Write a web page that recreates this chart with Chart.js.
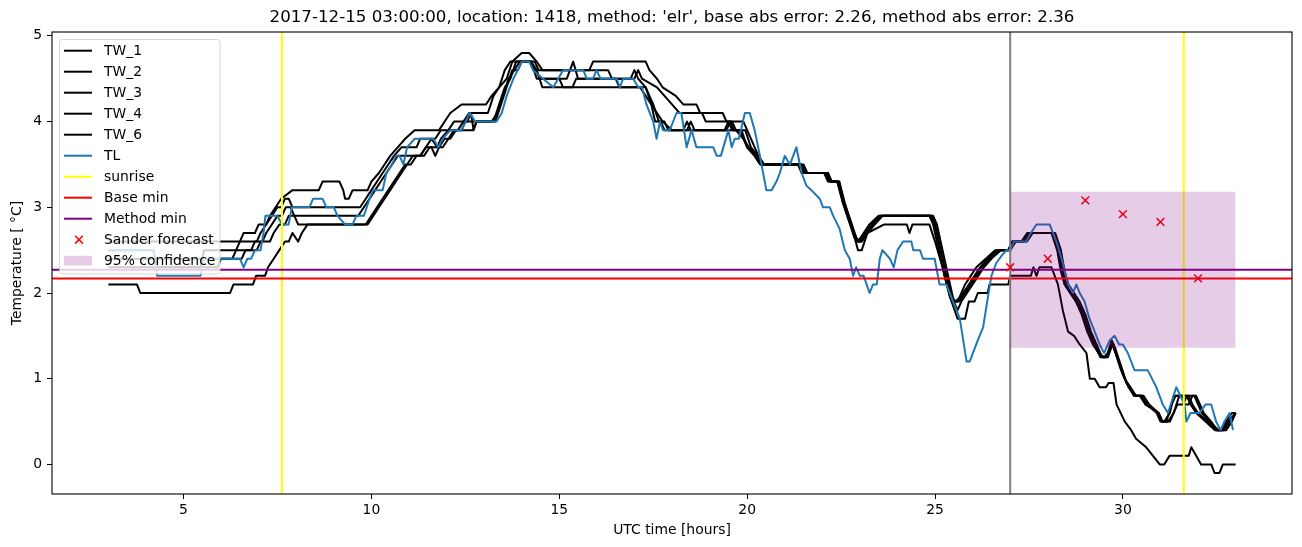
<!DOCTYPE html>
<html><head><meta charset="utf-8">
<script src="https://cdn.jsdelivr.net/npm/chart.js@4.4.1/dist/chart.umd.min.js"></script>
<style>html,body{margin:0;padding:0;background:#fff;}#wrap{width:1302px;height:547px;}</style>
</head><body><div id="wrap"><canvas id="c" width="1302" height="547"></canvas></div>
<script>
const TITLE = "2017-12-15 03:00:00, location: 1418, method: 'elr', base abs error: 2.26, method abs error: 2.36";
const X_LABEL = 'UTC time [hours]';
const Y_LABEL = 'Temperature [ °C]';
const X_TICKS = [5, 10, 15, 20, 25, 30];
const Y_TICKS = [0, 1, 2, 3, 4, 5];
const X_MIN = 1.5, X_MAX = 34.5, Y_MIN = -0.345, Y_MAX = 5.045;

const TW_1 = [[3.0,2.6],[6.5,2.6],[6.6,2.7],[6.9,2.7],[7.0,2.8],[7.2,2.8],[7.3,2.9],[7.45,3.0],[7.6,3.1],[7.9,3.2],[8.6,3.2],[8.7,3.3],[9.15,3.3],[9.25,3.2],[9.3,3.1],[9.4,3.1],[9.5,3.2],[9.9,3.2],[10.0,3.3],[10.2,3.4],[10.35,3.5],[10.5,3.6],[10.7,3.7],[10.9,3.8],[11.15,3.9],[11.8,3.9],[11.95,4.0],[12.1,4.1],[12.4,4.2],[13.05,4.2],[13.2,4.3],[13.4,4.4],[13.6,4.5],[13.75,4.7],[14.0,4.8],[14.2,4.8],[14.4,4.7],[14.55,4.6],[15.8,4.6],[15.9,4.7],[17.3,4.7],[17.4,4.6],[17.6,4.5],[17.75,4.4],[18.1,4.3],[18.3,4.2],[18.65,4.2],[18.75,4.1],[19.35,4.1],[19.45,4.0],[19.9,4.0],[20.0,3.9],[20.1,3.8],[20.2,3.7],[20.3,3.6],[20.45,3.5],[21.4,3.5],[21.5,3.4],[22.1,3.4],[22.2,3.3],[22.4,3.3],[22.55,3.1],[22.75,2.85],[22.9,2.65],[23.0,2.6],[23.15,2.7],[23.3,2.8],[23.55,2.9],[24.9,2.9],[25.0,2.8],[25.15,2.5],[25.3,2.2],[25.45,1.95],[25.55,1.9],[25.65,1.95],[25.8,2.1],[25.95,2.2],[26.1,2.3],[26.35,2.4],[26.6,2.5],[26.95,2.5],[27.05,2.6],[27.3,2.6],[27.45,2.7],[28.1,2.7],[28.25,2.55],[28.35,2.3],[28.45,2.1],[28.6,2.0],[28.75,1.9],[28.9,1.8],[29.05,1.6],[29.2,1.45],[29.35,1.3],[29.5,1.25],[29.6,1.3],[29.72,1.4],[29.8,1.3],[29.95,1.1],[30.1,0.95],[30.2,0.9],[30.3,0.8],[30.45,0.8],[30.6,0.7],[30.95,0.6],[31.05,0.5],[31.15,0.5],[31.3,0.7],[31.4,0.8],[31.75,0.8],[31.85,0.7],[32.0,0.6],[32.25,0.5],[32.5,0.4],[32.65,0.4],[32.8,0.5],[33.0,0.6]];
const TW_2 = [[3.0,2.1],[3.76,2.1],[3.85,2.0],[6.24,2.0],[6.33,2.1],[6.85,2.1],[6.93,2.2],[7.17,2.2],[7.25,2.3],[7.4,2.4],[7.55,2.5],[7.7,2.6],[7.8,2.6],[7.9,2.7],[8.05,2.6],[8.15,2.7],[8.3,2.8],[9.85,2.8],[10.0,2.9],[10.15,3.0],[10.3,3.1],[10.45,3.2],[10.6,3.3],[10.75,3.4],[10.9,3.5],[11.05,3.5],[11.2,3.6],[11.4,3.6],[11.55,3.7],[11.9,3.7],[12.05,3.8],[12.2,3.9],[12.4,3.9],[12.5,4.0],[13.2,4.0],[13.35,4.1],[13.5,4.3],[13.65,4.5],[13.8,4.6],[13.95,4.7],[14.2,4.7],[14.35,4.6],[14.5,4.5],[15.0,4.5],[15.1,4.4],[17.3,4.4],[17.45,4.2],[17.6,4.1],[17.75,4.0],[18.0,3.9],[19.4,3.9],[19.5,4.0],[19.6,3.9],[19.8,3.9],[20.0,3.7],[20.2,3.6],[20.35,3.5],[21.45,3.5],[21.55,3.4],[22.05,3.4],[22.15,3.3],[22.45,3.3],[22.6,3.0],[22.8,2.75],[22.95,2.6],[23.05,2.6],[23.2,2.7],[23.65,2.8],[24.25,2.8],[24.32,2.7],[24.4,2.8],[24.85,2.8],[25.0,2.6],[25.2,2.3],[25.4,1.95],[25.6,1.7],[25.8,1.7],[25.9,1.9],[26.05,1.9],[26.14,2.0],[26.4,2.0],[26.45,2.1],[26.95,2.1],[27.0,2.2],[27.55,2.2],[27.62,2.3],[27.7,2.2],[27.78,2.3],[28.1,2.3],[28.27,2.1],[28.4,1.8],[28.54,1.55],[28.7,1.5],[28.85,1.4],[29.03,1.3],[29.12,1.0],[29.25,1.0],[29.38,0.9],[29.55,0.9],[29.62,0.95],[29.75,0.95],[29.83,0.7],[30.05,0.5],[30.22,0.4],[30.35,0.3],[30.62,0.2],[30.8,0.1],[30.98,0.0],[31.1,0.0],[31.24,0.1],[31.75,0.1],[31.82,0.2],[31.95,0.1],[32.08,0.0],[32.35,0.0],[32.44,-0.1],[32.57,-0.1],[32.66,0.0],[33.0,0.0]];
const TW_3 = [[3.0,2.5],[4.2,2.5],[4.3,2.3],[5.45,2.3],[5.55,2.5],[6.4,2.5],[6.5,2.6],[6.95,2.6],[7.05,2.7],[7.2,2.8],[7.35,2.9],[7.5,3.0],[7.6,3.0],[7.7,3.1],[7.8,3.1],[7.9,3.0],[9.7,3.0],[9.85,3.1],[10.0,3.2],[10.15,3.3],[10.3,3.4],[10.45,3.5],[10.6,3.6],[10.8,3.7],[11.2,3.7],[11.3,3.8],[11.7,3.8],[11.85,3.9],[12.3,3.9],[12.45,4.0],[12.6,4.1],[13.1,4.1],[13.25,4.3],[13.4,4.4],[13.55,4.6],[13.7,4.7],[14.35,4.7],[14.45,4.6],[16.3,4.6],[16.4,4.5],[17.0,4.5],[17.1,4.6],[17.2,4.5],[17.6,4.4],[17.8,4.3],[18.0,4.2],[18.2,4.1],[18.8,4.1],[18.9,4.0],[19.6,4.0],[19.7,3.9],[19.95,3.9],[20.1,3.7],[20.3,3.6],[20.45,3.5],[21.5,3.5],[21.6,3.4],[22.15,3.4],[22.25,3.3],[22.45,3.3],[22.6,3.05],[22.8,2.75],[22.95,2.5],[23.05,2.5],[23.2,2.7],[23.35,2.8],[23.6,2.9],[24.95,2.9],[25.05,2.8],[25.2,2.5],[25.35,2.2],[25.5,1.9],[25.6,1.8],[25.7,1.9],[25.85,2.0],[26.0,2.1],[26.15,2.2],[26.3,2.3],[26.5,2.4],[26.75,2.5],[27.0,2.5],[27.15,2.6],[27.45,2.6],[27.6,2.7],[28.2,2.7],[28.35,2.5],[28.45,2.25],[28.55,2.1],[28.7,2.0],[28.85,1.9],[29.0,1.75],[29.15,1.55],[29.3,1.4],[29.45,1.25],[29.6,1.25],[29.72,1.4],[29.9,1.2],[30.05,1.0],[30.2,0.9],[30.35,0.8],[30.55,0.8],[30.7,0.7],[30.95,0.6],[31.05,0.5],[31.25,0.5],[31.35,0.6],[31.5,0.8],[31.55,0.8],[31.65,0.7],[31.75,0.7],[31.85,0.8],[31.95,0.8],[32.05,0.7],[32.15,0.6],[32.35,0.5],[32.5,0.4],[32.75,0.4],[32.9,0.5],[33.0,0.6]];
const TW_4 = [[3.0,2.4],[6.3,2.4],[6.4,2.5],[6.8,2.5],[6.9,2.6],[7.1,2.6],[7.2,2.7],[7.35,2.8],[7.5,2.9],[7.62,2.9],[7.72,3.0],[7.85,3.0],[7.95,2.9],[9.65,2.9],[9.8,3.0],[9.95,3.1],[10.1,3.2],[10.25,3.3],[10.4,3.4],[10.55,3.5],[10.7,3.6],[11.3,3.6],[11.45,3.7],[11.6,3.8],[11.75,3.7],[11.85,3.8],[12.05,3.9],[12.2,4.0],[12.55,4.0],[12.65,4.1],[12.72,3.9],[12.8,4.0],[13.3,4.0],[13.45,4.2],[13.6,4.4],[13.75,4.6],[13.9,4.6],[14.0,4.7],[14.25,4.7],[14.4,4.5],[15.2,4.5],[15.37,4.7],[15.5,4.5],[16.5,4.5],[16.6,4.4],[17.15,4.4],[17.3,4.3],[17.45,4.2],[17.55,4.0],[17.7,4.0],[17.8,3.9],[18.4,3.9],[18.5,4.0],[18.6,3.9],[19.45,3.9],[19.55,4.0],[19.65,3.9],[19.85,3.9],[20.0,3.7],[20.2,3.6],[20.35,3.5],[21.4,3.5],[21.5,3.4],[22.1,3.4],[22.2,3.3],[22.4,3.3],[22.55,3.05],[22.7,2.85],[22.85,2.65],[22.95,2.6],[23.1,2.7],[23.25,2.8],[23.5,2.9],[24.9,2.9],[25.0,2.8],[25.15,2.5],[25.3,2.2],[25.45,1.95],[25.55,1.9],[25.65,1.9],[25.8,2.0],[25.95,2.1],[26.1,2.2],[26.25,2.3],[26.45,2.4],[26.7,2.5],[26.95,2.5],[27.05,2.6],[27.35,2.6],[27.5,2.7],[28.1,2.7],[28.25,2.5],[28.35,2.25],[28.45,2.1],[28.6,2.0],[28.75,1.9],[28.9,1.75],[29.05,1.55],[29.2,1.4],[29.35,1.3],[29.5,1.25],[29.6,1.3],[29.7,1.45],[29.8,1.35],[29.95,1.15],[30.1,0.95],[30.25,0.85],[30.35,0.8],[30.5,0.8],[30.6,0.7],[30.95,0.6],[31.05,0.5],[31.1,0.5],[31.25,0.6],[31.35,0.8],[31.7,0.8],[31.8,0.7],[31.95,0.6],[32.2,0.5],[32.45,0.4],[32.6,0.4],[32.75,0.5],[32.9,0.6],[33.0,0.6]];
const TW_6 = [[3.0,2.3],[5.9,2.3],[6.0,2.4],[6.55,2.4],[6.65,2.5],[6.95,2.5],[7.05,2.6],[7.3,2.6],[7.4,2.7],[7.55,2.8],[7.7,2.8],[7.8,2.9],[7.95,2.9],[8.05,2.8],[9.9,2.8],[10.05,2.9],[10.2,3.0],[10.35,3.1],[10.5,3.2],[10.65,3.3],[10.8,3.4],[10.95,3.5],[11.1,3.6],[11.3,3.6],[11.45,3.7],[11.6,3.7],[11.7,3.6],[11.8,3.7],[11.95,3.8],[12.1,3.8],[12.25,3.9],[12.7,3.9],[12.8,4.0],[13.25,4.0],[13.4,4.2],[13.55,4.4],[13.7,4.5],[13.85,4.7],[14.25,4.7],[14.4,4.6],[14.55,4.4],[15.35,4.4],[15.45,4.5],[16.9,4.5],[17.0,4.6],[17.1,4.5],[17.3,4.4],[17.5,4.2],[17.65,4.0],[17.8,4.0],[17.9,3.9],[18.3,3.9],[18.4,4.0],[18.5,3.9],[19.7,3.9],[19.9,3.8],[20.05,3.7],[20.25,3.6],[20.4,3.5],[21.35,3.5],[21.45,3.4],[22.15,3.4],[22.25,3.3],[22.4,3.3],[22.55,3.05],[22.75,2.8],[22.9,2.6],[23.05,2.6],[23.2,2.7],[23.4,2.8],[23.6,2.9],[24.85,2.9],[24.95,2.8],[25.1,2.5],[25.25,2.2],[25.4,1.95],[25.5,1.9],[25.6,1.9],[25.75,2.0],[25.9,2.1],[26.05,2.2],[26.2,2.3],[26.4,2.4],[26.65,2.5],[27.0,2.5],[27.1,2.6],[27.4,2.6],[27.55,2.7],[28.15,2.7],[28.3,2.5],[28.4,2.25],[28.5,2.1],[28.65,2.0],[28.8,1.9],[28.95,1.75],[29.1,1.55],[29.25,1.4],[29.4,1.25],[29.55,1.25],[29.65,1.35],[29.75,1.4],[29.85,1.25],[30.0,1.05],[30.15,0.9],[30.3,0.8],[30.5,0.8],[30.65,0.7],[30.9,0.6],[31.0,0.5],[31.2,0.5],[31.35,0.6],[31.45,0.7],[31.6,0.7],[31.7,0.8],[31.9,0.8],[32.0,0.7],[32.1,0.6],[32.3,0.5],[32.55,0.4],[32.7,0.4],[32.85,0.5],[33.0,0.6]];
const TL = [[3.0,2.5],[4.2,2.5],[4.3,2.2],[5.45,2.2],[5.55,2.4],[6.4,2.4],[6.5,2.4],[6.6,2.3],[6.7,2.4],[6.8,2.4],[6.9,2.5],[7.05,2.5],[7.13,2.7],[7.18,2.9],[7.5,2.9],[7.62,2.8],[7.8,2.8],[7.88,3.0],[8.35,3.0],[8.45,3.1],[8.7,3.1],[8.8,3.0],[9.0,3.0],[9.1,2.9],[9.3,2.8],[9.5,2.8],[9.6,2.9],[9.8,2.9],[9.95,3.1],[10.05,3.2],[10.3,3.2],[10.4,3.4],[10.55,3.5],[10.65,3.6],[10.75,3.6],[10.85,3.5],[10.95,3.7],[11.15,3.8],[11.65,3.8],[11.78,3.7],[11.9,3.8],[12.1,3.9],[12.4,3.9],[12.62,4.1],[12.76,4.0],[13.33,4.0],[13.47,4.1],[13.6,4.3],[13.78,4.5],[14.0,4.7],[14.2,4.7],[14.3,4.6],[14.57,4.5],[14.84,4.4],[15.1,4.6],[15.64,4.6],[15.73,4.5],[15.9,4.5],[15.99,4.6],[16.1,4.5],[16.53,4.5],[16.61,4.4],[16.7,4.5],[16.97,4.5],[17.1,4.4],[17.2,4.4],[17.32,4.2],[17.5,4.0],[17.59,3.8],[17.68,4.0],[17.76,3.9],[17.94,3.9],[18.12,4.1],[18.25,4.1],[18.39,3.7],[18.52,3.9],[18.65,3.7],[19.1,3.7],[19.19,3.6],[19.3,3.6],[19.5,3.9],[19.59,3.7],[19.67,3.8],[19.78,3.8],[19.94,4.1],[20.07,4.1],[20.2,3.9],[20.34,3.6],[20.51,3.2],[20.65,3.2],[20.78,3.3],[20.87,3.4],[21.0,3.6],[21.14,3.5],[21.31,3.7],[21.45,3.4],[21.58,3.25],[21.71,3.2],[21.93,3.1],[22.02,3.0],[22.2,3.0],[22.29,2.9],[22.46,2.75],[22.6,2.5],[22.73,2.4],[22.82,2.2],[22.9,2.3],[23.0,2.2],[23.1,2.2],[23.26,2.0],[23.35,2.1],[23.45,2.1],[23.53,2.4],[23.6,2.5],[23.8,2.4],[23.9,2.3],[24.0,2.5],[24.15,2.6],[24.37,2.6],[24.42,2.5],[24.6,2.5],[24.68,2.4],[24.99,2.4],[25.12,2.1],[25.3,2.1],[25.66,1.7],[25.84,1.2],[25.92,1.2],[26.14,1.45],[26.28,1.6],[26.37,1.85],[26.5,2.2],[26.63,2.35],[26.8,2.45],[26.9,2.5],[27.0,2.5],[27.1,2.6],[27.43,2.6],[27.55,2.7],[27.7,2.8],[28.05,2.8],[28.23,2.6],[28.4,2.35],[28.54,2.1],[28.67,2.0],[28.76,2.1],[28.85,2.0],[28.98,1.9],[29.11,1.7],[29.25,1.55],[29.38,1.4],[29.5,1.3],[29.65,1.45],[29.78,1.5],[29.9,1.4],[30.0,1.4],[30.13,1.3],[30.31,1.1],[30.66,1.1],[30.89,0.9],[31.06,0.7],[31.2,0.6],[31.42,0.9],[31.64,0.7],[31.69,0.5],[31.8,0.6],[32.04,0.6],[32.2,0.7],[32.35,0.7],[32.48,0.5],[32.6,0.4],[32.7,0.5],[32.84,0.6],[32.93,0.4]];

const SUNRISE = [7.62, 31.62];
const BASE_MIN = 2.17;
const METHOD_MIN = 2.27;
const NOW_T = 27;
const SANDER_X = [27, 28, 29, 30, 31, 32];
const SANDER_Y = [2.30, 2.40, 3.08, 2.92, 2.83, 2.17];
const CONF_X = [27, 33];
const CONF_LOW = 1.36;
const CONF_HIGH = 3.18;

const FONT = 'DejaVu Sans';
Chart.defaults.font.family = FONT;
Chart.defaults.color = '#000';

const pts = arr => arr.map(([x, y]) => ({x, y}));
const vlines = xs => xs.flatMap(x => [{x, y: Y_MIN}, {x, y: Y_MAX}, {x, y: null}]);
const hline = y => [{x: X_MIN, y}, {x: X_MAX, y}];

const lineDs = (label, data, color, w, kind) => ({
  type: 'line', label, data, borderColor: color, backgroundColor: color,
  borderWidth: w, pointRadius: 0, tension: 0, fill: false, spanGaps: false,
  borderJoinStyle: 'round', legendKind: kind
});

const datasets = [
  lineDs('TW_1', pts(TW_1), '#000000', 2, 'line'),
  lineDs('TW_2', pts(TW_2), '#000000', 2, 'line'),
  lineDs('TW_3', pts(TW_3), '#000000', 2, 'line'),
  lineDs('TW_4', pts(TW_4), '#000000', 2, 'line'),
  lineDs('TW_6', pts(TW_6), '#000000', 2, 'line'),
  lineDs('TL', pts(TL), '#1f77b4', 2, 'line'),
  lineDs('sunrise', vlines(SUNRISE), '#ffff00', 2, 'line'),
  lineDs('Base min', hline(BASE_MIN), '#ff0000', 2, 'line'),
  lineDs('Method min', hline(METHOD_MIN), '#800080', 2, 'line'),
  lineDs('now', vlines([NOW_T]), '#808080', 2, null),
  {
    type: 'scatter', label: 'Sander forecast',
    data: SANDER_X.map((x, i) => ({x, y: SANDER_Y[i]})),
    pointStyle: 'crossRot', pointRadius: 5.5, pointBorderWidth: 1.5,
    borderColor: '#ff0000', backgroundColor: '#ff0000', showLine: false,
    legendKind: 'marker'
  },
  {
    type: 'line', label: '95% confidence',
    data: CONF_X.map(x => ({x, y: CONF_HIGH})),
    borderWidth: 0, borderColor: 'rgba(0,0,0,0)', pointRadius: 0,
    backgroundColor: 'rgba(128,0,128,0.2)', fill: {value: CONF_LOW},
    legendKind: 'patch'
  }
];
datasets.forEach((d, i) => { d.order = 100 - i; });

const framePlugin = {
  id: 'frame',
  afterDatasetsDraw(chart) {
    const {ctx, chartArea: a} = chart;
    ctx.save();
    ctx.strokeStyle = '#000';
    ctx.lineWidth = 1.1;
    ctx.strokeRect(a.left, a.top, a.right - a.left, a.bottom - a.top);
    ctx.restore();
  }
};

const legendPlugin = {
  id: 'mplLegend',
  afterDraw(chart) {
    const ctx = chart.ctx;
    const items = chart.data.datasets.filter(d => d.legendKind);
    const x0 = 59.5, y0 = 39.5, w = 160.5, h = 234.5, r = 3;
    ctx.save();
    ctx.beginPath();
    ctx.moveTo(x0 + r, y0);
    ctx.lineTo(x0 + w - r, y0); ctx.arcTo(x0 + w, y0, x0 + w, y0 + r, r);
    ctx.lineTo(x0 + w, y0 + h - r); ctx.arcTo(x0 + w, y0 + h, x0 + w - r, y0 + h, r);
    ctx.lineTo(x0 + r, y0 + h); ctx.arcTo(x0, y0 + h, x0, y0 + h - r, r);
    ctx.lineTo(x0, y0 + r); ctx.arcTo(x0, y0, x0 + r, y0, r);
    ctx.closePath();
    ctx.globalAlpha = 0.8;
    ctx.fillStyle = '#ffffff'; ctx.fill();
    ctx.strokeStyle = '#cccccc'; ctx.lineWidth = 1; ctx.stroke();
    ctx.globalAlpha = 1;
    ctx.font = '13.9px "' + FONT + '"';
    ctx.textBaseline = 'middle';
    ctx.textAlign = 'left';
    items.forEach((d, i) => {
      const cy = 50.7 + i * 21.0;
      if (d.legendKind === 'line') {
        ctx.strokeStyle = d.borderColor; ctx.lineWidth = 2;
        ctx.beginPath(); ctx.moveTo(64, cy); ctx.lineTo(92, cy); ctx.stroke();
      } else if (d.legendKind === 'marker') {
        const s = 3.9;
        ctx.strokeStyle = d.borderColor; ctx.lineWidth = 1.5;
        ctx.beginPath();
        ctx.moveTo(79 - s, cy - s); ctx.lineTo(79 + s, cy + s);
        ctx.moveTo(79 - s, cy + s); ctx.lineTo(79 + s, cy - s);
        ctx.stroke();
      } else if (d.legendKind === 'patch') {
        ctx.fillStyle = d.backgroundColor;
        ctx.fillRect(64, cy - 4.9, 28, 9.8);
      }
      ctx.fillStyle = '#000';
      ctx.fillText(d.label, 104, cy + 0.5);
    });
    ctx.restore();
  }
};

const tickFont = {family: FONT, size: 13.9};

new Chart(document.getElementById('c'), {
  data: {datasets},
  options: {
    responsive: false,
    animation: false,
    devicePixelRatio: 1,
    layout: {padding: {top: 0, left: 0, right: 10, bottom: 0}},
    plugins: {
      legend: {display: false},
      tooltip: {enabled: false},
      title: {
        display: true, text: TITLE, fullSize: false, color: '#000',
        font: {family: FONT, size: 16.67, weight: 'normal', lineHeight: 1.2},
        padding: {top: 8, bottom: 4}
      }
    },
    scales: {
      x: {
        type: 'linear', position: 'bottom', min: X_MIN, max: X_MAX,
        afterBuildTicks: s => { s.ticks = X_TICKS.map(v => ({value: v})); },
        afterFit: s => { s.height = 53; },
        grid: {display: true, drawOnChartArea: false, drawTicks: true, tickLength: 5, color: '#000', lineWidth: 1},
        border: {display: false},
        ticks: {color: '#000', font: tickFont, padding: 3, maxRotation: 0, autoSkip: false,
          callback: v => String(v)},
        title: {display: true, text: X_LABEL, color: '#000', font: {family: FONT, size: 13.9, lineHeight: 1.2},
          padding: {top: 0, bottom: 8.6}}
      },
      y: {
        type: 'linear', position: 'left', min: Y_MIN, max: Y_MAX,
        afterBuildTicks: s => { s.ticks = Y_TICKS.map(v => ({value: v})); },
        afterFit: s => { s.width = 52; },
        grid: {display: true, drawOnChartArea: false, drawTicks: true, tickLength: 5, color: '#000', lineWidth: 1},
        border: {display: false},
        ticks: {color: '#000', font: tickFont, padding: 5, autoSkip: false, callback: v => String(v)},
        title: {display: true, text: Y_LABEL, color: '#000', font: {family: FONT, size: 13.9, lineHeight: 1.2},
          padding: {top: 9.5, bottom: 0}}
      }
    }
  },
  plugins: [framePlugin, legendPlugin]
});
</script>
</body></html>
